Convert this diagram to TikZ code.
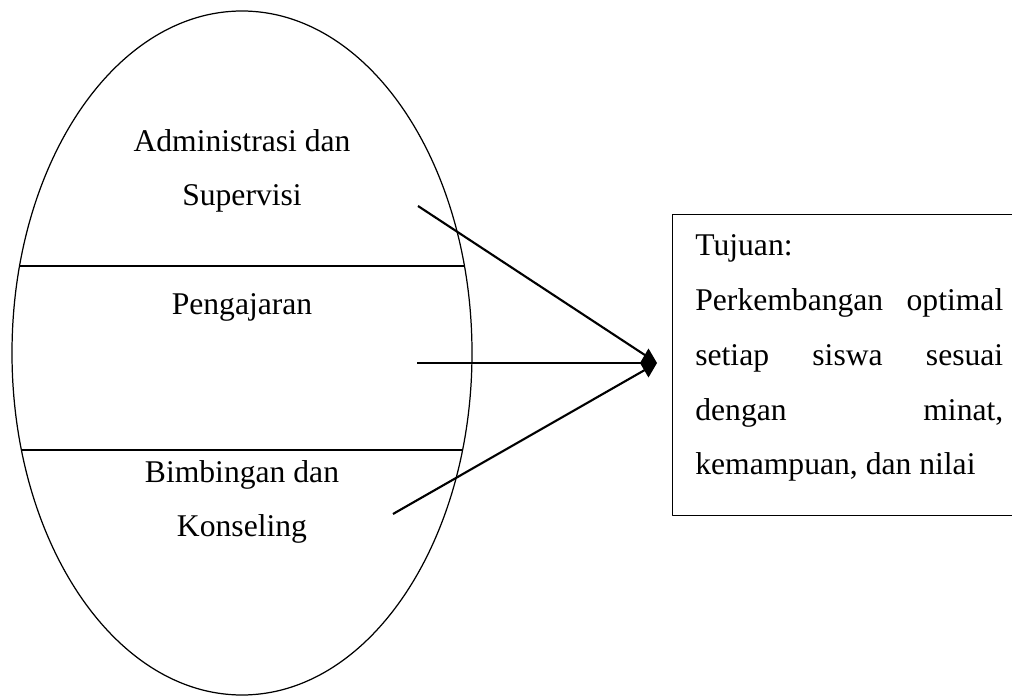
\documentclass[tikz,border=0pt]{standalone}
\usepackage{fontspec}
\setmainfont{Liberation Serif}
\usetikzlibrary{arrows.meta}

\newcommand{\baris}[1]{\makebox[6.16cm][s]{#1}}

\begin{document}
\begin{tikzpicture}[x=0.02cm,y=-0.02cm,line join=round,
  bagian/.style={font=\fontsize{18pt}{31.3pt}\selectfont,align=center,inner sep=0pt,anchor=base},
  panah/.style={line width=1.2pt},
  garis/.style={line width=0.9pt}]
  \clip (0,0) rectangle (1012,699);
  \draw[line width=0.7pt] (242,353) ellipse (230 and 342);
  \draw[garis] (19,266) -- (465,266);
  \draw[garis] (21,450) -- (463,450);

  \node[bagian] (admin) at (242,206) {Administrasi dan\\Supervisi};
  \node[bagian] (ajar) at (242,315) {Pengajaran};
  \node[bagian] (bimbing) at (242,537) {Bimbingan dan\\Konseling};

  \coordinate (tip) at (657,363);
  \coordinate (dariadmin) at (418,206);
  \coordinate (dariajar) at (417,363);
  \coordinate (daribimbing) at (393,514);
  \draw[panah,shorten >=0.18cm] (dariadmin) -- (tip);
  \draw[panah,shorten >=0.18cm] (daribimbing) -- (tip);
  \draw[panah,-{Diamond[length=0.34cm,width=0.58cm]}] (dariajar) -- (tip);

  \node[draw,line width=0.8pt,minimum width=7.36cm,minimum height=6.02cm,
    anchor=north west,inner sep=0pt] (tujuan) at (672,214) {};
  \node[font=\fontsize{18pt}{31.3pt}\selectfont,align=left,inner sep=0pt,
    anchor=base west] (isi) at (695,475)
    {Tujuan:\\ \baris{Perkembangan optimal}\\ \baris{setiap siswa sesuai}\\
     \baris{dengan minat,}\\ kemampuan, dan nilai};
\end{tikzpicture}
\end{document}
